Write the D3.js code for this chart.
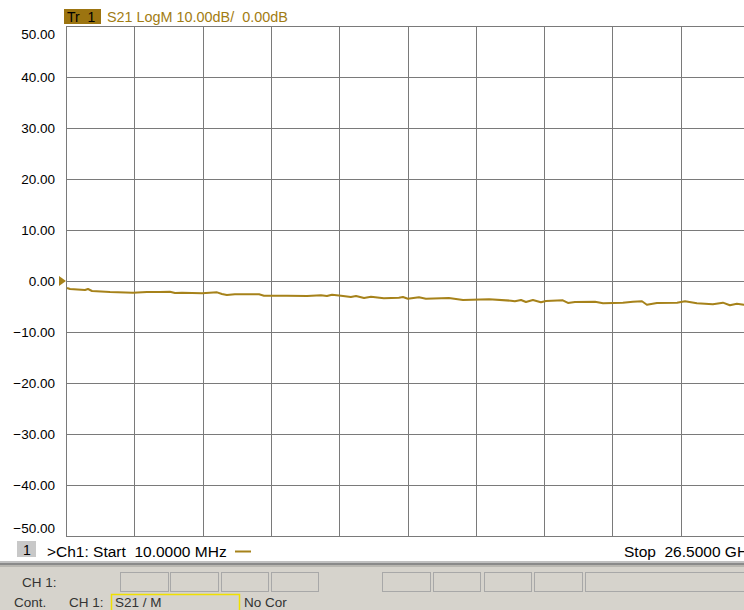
<!DOCTYPE html>
<html><head><meta charset="utf-8">
<script src="https://cdn.jsdelivr.net/npm/d3@7"></script>
<style>
html,body{margin:0;padding:0;background:#fff;overflow:hidden;}
svg{display:block;font-family:"Liberation Sans",Arial,sans-serif;}
</style></head>
<body>
<svg id="c" width="744" height="610"></svg>
<script>
// Data (GHz, dB)
const freqGHz = [0.01,0.126,0.708,0.824,0.98,1.68,2.57,3.11,3.62,4.0,4.2,4.47,5.25,5.83,6.02,6.21,6.52,7.46,7.65,8.54,9.32,9.86,10.09,10.29,10.64,11.02,11.22,11.53,11.80,12.30,12.88,13.04,13.23,13.66,13.93,14.82,15.37,16.38,17.23,17.38,17.62,17.81,18.08,18.39,18.59,19.24,19.44,19.71,20.49,20.80,21.57,21.96,22.31,22.50,22.89,23.67,23.98,24.44,25.06,25.45,25.72,25.99,26.26,26.5];
const s21dB = [-1.37,-1.57,-1.76,-1.57,-1.96,-2.16,-2.29,-2.16,-2.16,-2.10,-2.35,-2.29,-2.41,-2.22,-2.55,-2.75,-2.61,-2.61,-2.88,-2.88,-2.94,-2.80,-2.94,-2.69,-2.88,-3.14,-2.94,-3.33,-3.08,-3.39,-3.27,-3.14,-3.47,-3.20,-3.47,-3.33,-3.73,-3.59,-3.86,-3.98,-3.73,-4.12,-3.73,-4.18,-3.92,-3.78,-4.31,-4.12,-4.06,-4.37,-4.25,-4.06,-3.98,-4.65,-4.31,-4.25,-3.98,-4.37,-4.57,-4.25,-4.76,-4.45,-4.65,-4.6];
const yTicks = [50,40,30,20,10,0,-10,-20,-30,-40,-50];
const xDivs = d3.range(0,11);
const titleTr = "Tr  1";
const titleText = "S21 LogM 10.00dB/  0.00dB";
const startLabel = ">Ch1: Start  10.0000 MHz";
const stopLabel = "Stop  26.5000 GHz";

const svg = d3.select("#c");
const pL = 67, pR = 750, pT = 26, pB = 536;
const x = d3.scaleLinear().domain([0.01,26.5]).range([pL,pR]);
const y = d3.scaleLinear().domain([-50,50]).range([pB,pT]);
const xDiv = d3.scaleLinear().domain([0,10]).range([pL,pR]);

const gridColor = "#7a7a7a";
const traceColor = "#a6821a";

// horizontal grid
svg.append("g").selectAll("line").data(yTicks).join("line")
  .attr("x1",pL-1).attr("x2",pR)
  .attr("y1",d=>Math.round(y(d))+0.5).attr("y2",d=>Math.round(y(d))+0.5)
  .attr("stroke",gridColor).attr("stroke-width",1);
// vertical grid
svg.append("g").selectAll("line").data(xDivs).join("line")
  .attr("x1",d=>Math.round(xDiv(d))-0.5).attr("x2",d=>Math.round(xDiv(d))-0.5)
  .attr("y1",pT).attr("y2",pB+1)
  .attr("stroke",gridColor).attr("stroke-width",1);

// y labels
const yAxis = d3.axisLeft(y).tickValues(yTicks).tickFormat(d3.format(".2f")).tickSize(0).tickPadding(0);
const ga = svg.append("g").attr("transform",`translate(${pL-12},0)`).call(yAxis);
ga.select(".domain").remove();
ga.selectAll("text").attr("font-size",13.5).attr("fill","#000")
  .attr("font-family","Liberation Sans, Arial, sans-serif").attr("dy","0.35em")
  .attr("y",d=>d===50?8:(d===-50?-8:0));

// reference marker triangle
svg.append("path")
  .attr("d",`M${pL-8},${y(0)-5}L${pL-1},${y(0)}L${pL-8},${y(0)+5}Z`)
  .attr("fill",traceColor);

// trace
const data = freqGHz.map((f,i)=>[f,s21dB[i]]);
svg.append("path").datum(data)
  .attr("fill","none").attr("stroke",traceColor).attr("stroke-width",2)
  .attr("stroke-linejoin","round")
  .attr("d",d3.line().x(d=>x(d[0])).y(d=>y(d[1])));

// title
svg.append("rect").attr("x",64).attr("y",9).attr("width",37).attr("height",15).attr("fill","#9c7410");
svg.append("text").attr("x",67).attr("y",21.5).attr("font-size",14).attr("fill","#000").style("white-space","pre").text(titleTr);
svg.append("text").attr("x",107).attr("y",21.5).attr("font-size",14.4).attr("fill","#a27c12").style("white-space","pre").text(titleText);

// bottom status line
svg.append("rect").attr("x",17).attr("y",541).attr("width",19).attr("height",16).attr("fill","#c8c8c8");
svg.append("text").attr("x",23).attr("y",555).attr("font-size",14).attr("fill","#000").text("1");
svg.append("text").attr("x",47).attr("y",557).attr("font-size",15.5).attr("fill","#000").style("white-space","pre").text(startLabel);
svg.append("line").attr("x1",235).attr("x2",251).attr("y1",551.5).attr("y2",551.5).attr("stroke",traceColor).attr("stroke-width",2);
svg.append("text").attr("x",624).attr("y",557).attr("font-size",15.5).attr("fill","#000").style("white-space","pre").text(stopLabel);

// lower panel
svg.append("rect").attr("x",0).attr("y",561).attr("width",744).attr("height",49).attr("fill","#d6d3cc");
svg.append("rect").attr("x",0).attr("y",561).attr("width",744).attr("height",2).attr("fill","#c0c0c0");
svg.append("rect").attr("x",0).attr("y",563).attr("width",744).attr("height",2).attr("fill","#8a8a8a");
svg.append("rect").attr("x",0).attr("y",565).attr("width",744).attr("height",2).attr("fill","#b8b6b0");
const boxes = [[120,169],[170,219],[221,269],[271,319],[382,431],[433,481],[484,532],[534,583],[585,760]];
svg.append("g").selectAll("rect").data(boxes).join("rect")
  .attr("x",d=>d[0]+0.5).attr("y",572.5).attr("width",d=>d[1]-d[0]-1).attr("height",19)
  .attr("fill","#d6d3cc").attr("stroke","#a8a8a8");
svg.append("text").attr("x",22).attr("y",587).attr("font-size",13.5).attr("fill","#333").text("CH 1:");
svg.append("text").attr("x",14).attr("y",607).attr("font-size",13.5).attr("fill","#333").text("Cont.");
svg.append("text").attr("x",69).attr("y",607).attr("font-size",13.5).attr("fill","#333").text("CH 1:");
svg.append("rect").attr("x",111.5).attr("y",594.5).attr("width",128).attr("height",17).attr("fill","none").attr("stroke","#f0e000").attr("stroke-width",1.5);
svg.append("text").attr("x",115).attr("y",607).attr("font-size",13.5).attr("fill","#333").text("S21 / M");
svg.append("text").attr("x",244).attr("y",607).attr("font-size",13.5).attr("fill","#333").text("No Cor");
</script>
</body></html>
